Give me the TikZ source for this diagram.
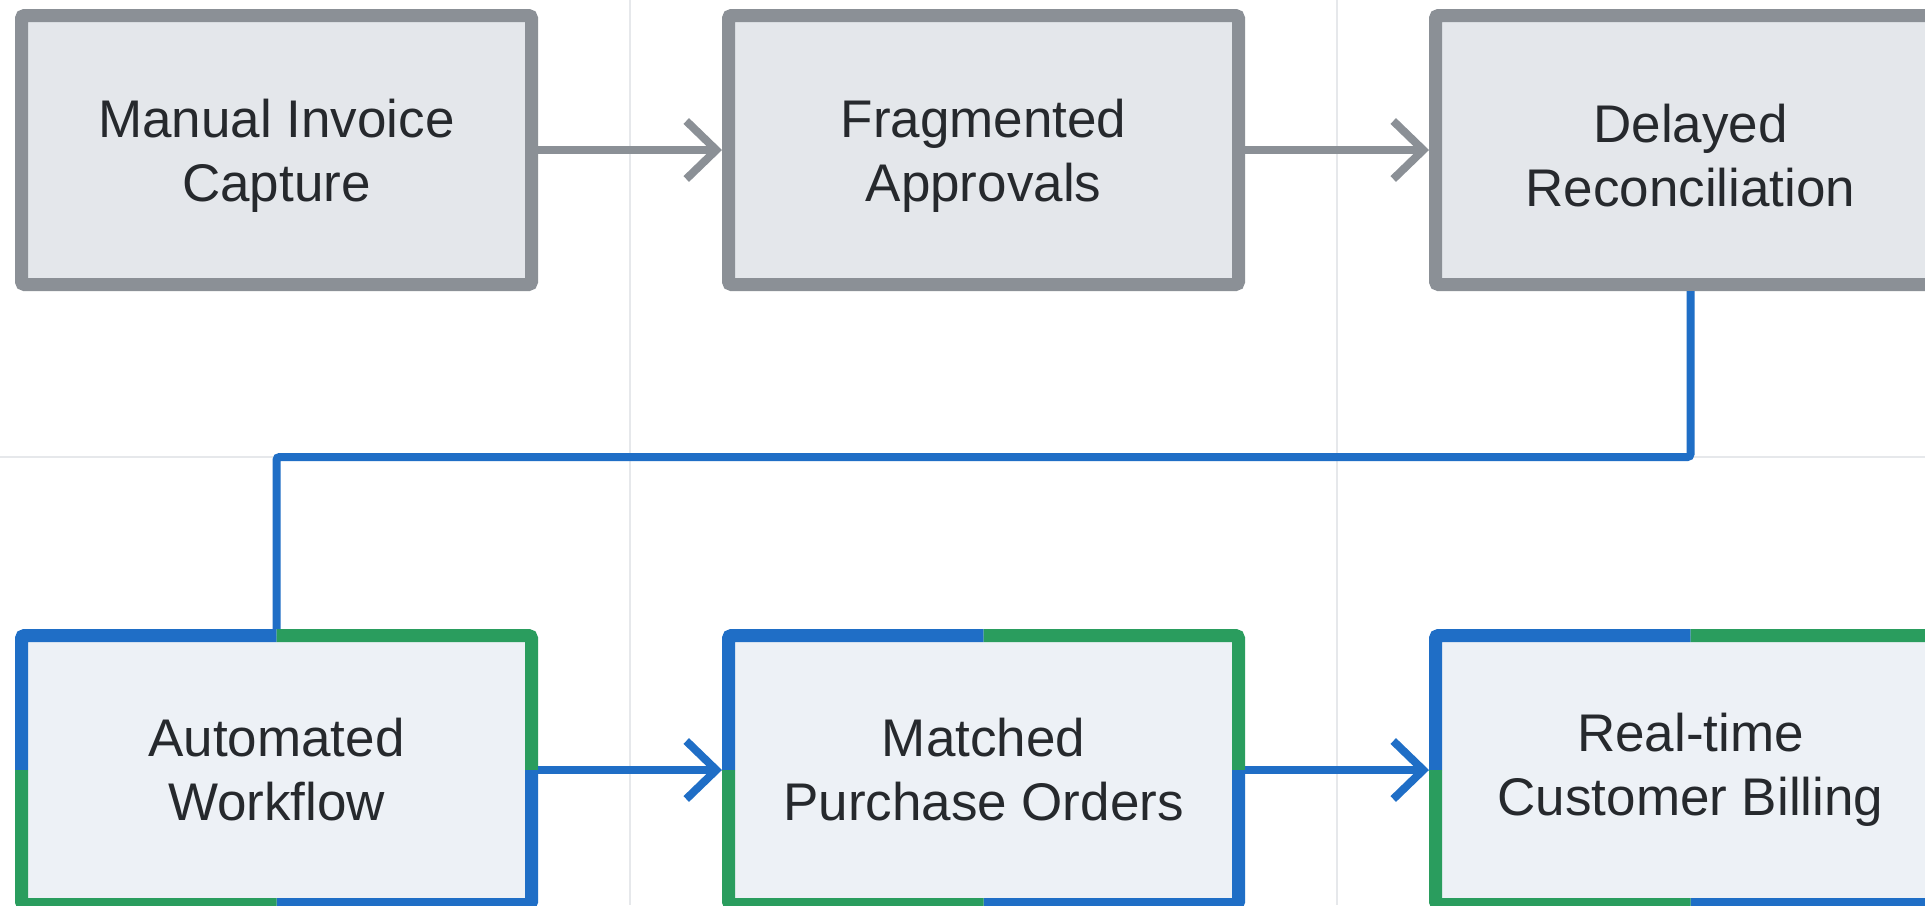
\documentclass[tikz,border=0pt]{standalone}
\usepackage{fontspec}
\setmainfont{Liberation Sans}
\usetikzlibrary{arrows.meta}
\definecolor{gridc}{HTML}{E6E8EB}
\definecolor{grayb}{HTML}{8B9096}
\definecolor{grayfill}{HTML}{E4E7EB}
\definecolor{newfill}{HTML}{EDF1F6}
\definecolor{blueb}{HTML}{1F6EC6}
\definecolor{greenb}{HTML}{2A9D5E}
\definecolor{txt}{HTML}{26292D}
\tikzset{
  boxtext/.style={align=center, text=txt, font=\fontsize{53}{64}\selectfont, inner sep=0pt},
  oldbox/.style={rectangle, draw=grayb, fill=grayfill, line width=13pt,
    rounded corners=3pt, minimum width=510pt, minimum height=269pt, inner sep=0pt},
  newbox/.style={boxtext, rectangle, fill=newfill, line width=13pt,
    minimum width=510pt, minimum height=269pt, inner sep=0pt, outer sep=0pt},
  edgeb/.style={line width=13pt, line cap=butt, rounded corners=3pt},
  oldarrow/.style={draw=grayb, line width=8pt, -{Straight Barb[length=30pt,width=58pt]}},
  newarrow/.style={draw=blueb, line width=8pt, shorten <=6.5pt, shorten >=6.5pt,
    -{Straight Barb[length=30pt,width=58pt]}},
  linkline/.style={draw=blueb, line width=8pt, rounded corners=3pt}
}
\begin{document}
\begin{tikzpicture}[x=1pt,y=-1pt]
\useasboundingbox (0,0) rectangle (1925,905);
\fill[white] (0,0) rectangle (1925,905);
% background grid
\draw[gridc, line width=2pt] (630,0) -- (630,905);
\draw[gridc, line width=2pt] (1337,0) -- (1337,905);
\draw[gridc, line width=2pt] (0,457) -- (1925,457);

% top row
\node[oldbox] (b1) at (276.5,150) {};
\node[oldbox] (b2) at (983.5,150) {};
\node[oldbox] (b3) at (1690.5,150) {};
\node[boxtext] (t1) at ([yshift=-6pt]b1.center) {Manual Invoice\\Capture};
\node[boxtext] (t2) at ([yshift=-6pt]b2.center) {Fragmented\\Approvals};
\node[boxtext] (t3) at ([yshift=-6pt]b3.center) {Delayed\\Reconciliation};

% bottom row
\node[newbox] (b4) at (276.5,770) {Automated\\Workflow};
\node[newbox] (b5) at (983.5,770) {Matched\\Purchase Orders};
\node[newbox] (b6) at (1690.5,770) {Real-time\\Customer Billing};

\foreach \b in {b4,b5,b6}{
  \draw[edgeb, draw=blueb]  (\b.north) -- (\b.north west) -- (\b.west);
  \draw[edgeb, draw=greenb] (\b.north) -- (\b.north east) -- (\b.east);
  \draw[edgeb, draw=blueb]  (\b.east) -- (\b.south east) -- (\b.south);
  \draw[edgeb, draw=greenb] (\b.south) -- (\b.south west) -- (\b.west);
}

% connectors
\draw[oldarrow] (b1.east) -- (b2.west);
\draw[oldarrow] (b2.east) -- (b3.west);
\coordinate (midrow) at (0,457);
\draw[linkline] (b3.south) -- (b3.south |- midrow) -- (b4.north |- midrow) -- ([yshift=6.5pt]b4.north);
\draw[newarrow] (b4.east) -- (b5.west);
\draw[newarrow] (b5.east) -- (b6.west);
\end{tikzpicture}
\end{document}
